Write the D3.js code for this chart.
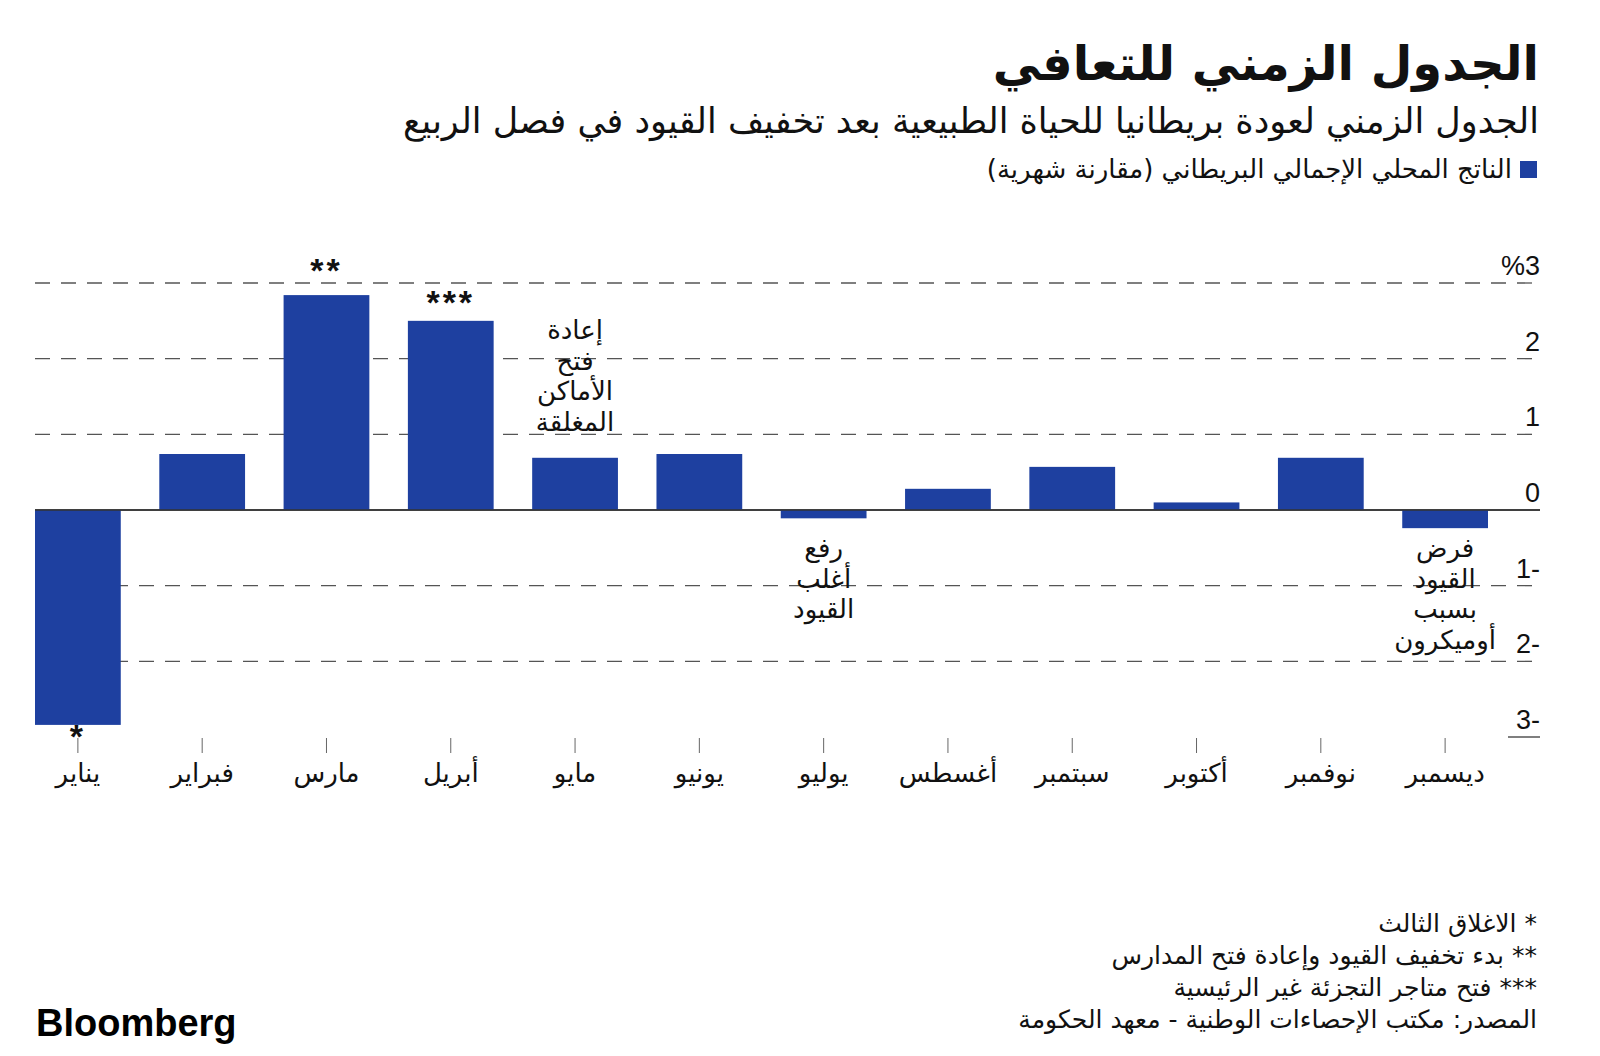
<!DOCTYPE html>
<html><head><meta charset="utf-8">
<script src="https://cdn.jsdelivr.net/npm/d3@7"></script>
<style>
html,body{margin:0;padding:0;background:#fff;}
svg{display:block;}
.ar{font-family:"DejaVu Sans",sans-serif;}
.num{font-family:"Liberation Sans",Arial,sans-serif;}
</style></head>
<body>
<script>
const months = ["يناير","فبراير","مارس","أبريل","مايو","يونيو","يوليو","أغسطس","سبتمبر","أكتوبر","نوفمبر","ديسمبر"];
const gdp = [-2.84, 0.74, 2.84, 2.5, 0.69, 0.74, -0.11, 0.28, 0.57, 0.1, 0.69, -0.24];
const yTicks = [-3, -2, -1, 0, 1, 2, 3];
const yTickLabels = ["3-", "2-", "1-", "0", "1", "2", "%3"];
const markers = [{m:"يناير", t:"*"}, {m:"مارس", t:"**"}, {m:"أبريل", t:"***"}];
const notes = [
  {m:"مايو", lines:["إعادة","فتح","الأماكن","المغلقة"]},
  {m:"يوليو", lines:["رفع","أغلب","القيود"]},
  {m:"ديسمبر", lines:["فرض","القيود","بسبب","أوميكرون"]}
];
const title = "الجدول الزمني للتعافي";
const subtitle = "الجدول الزمني لعودة بريطانيا للحياة الطبيعية بعد تخفيف القيود في فصل الربيع";
const legendLabel = "الناتج المحلي الإجمالي البريطاني (مقارنة شهرية)";
const footnotes = ["* الاغلاق الثالث","** بدء تخفيف القيود وإعادة فتح المدارس","*** فتح متاجر التجزئة غير الرئيسية","المصدر: مكتب الإحصاءات الوطنية - معهد الحكومة"];

const W = 1600, H = 1056;
const BLUE = "#1e40a0";
const svg = d3.select("body").append("svg").attr("width", W).attr("height", H);

const x = d3.scaleBand().domain(months).range([35, 1488]).paddingInner(0.31).paddingOuter(0);
const y = d3.scaleLinear().domain([-3, 3]).range([737, 283]);
const gridL = 35, gridR = 1540;

// title block
svg.append("text").attr("class","ar").attr("x",1539).attr("y",80)
  .attr("direction","rtl").attr("text-anchor","start")
  .attr("font-size",48).attr("font-weight","bold").attr("fill","#111").text(title);
svg.append("text").attr("class","ar").attr("x",1539).attr("y",133)
  .attr("direction","rtl").attr("text-anchor","start")
  .attr("font-size",35).attr("fill","#111").text(subtitle);
svg.append("rect").attr("x",1520).attr("y",161).attr("width",17).attr("height",17).attr("fill",BLUE);
svg.append("text").attr("class","ar").attr("x",1512).attr("y",178)
  .attr("direction","rtl").attr("text-anchor","start")
  .attr("font-size",26).attr("fill","#111").text(legendLabel);

// gridlines
const g = svg.append("g");
yTicks.forEach((t, i) => {
  const yy = y(t);
  if (t === 0) {
    g.append("line").attr("x1",gridL).attr("x2",gridR).attr("y1",yy).attr("y2",yy)
      .attr("stroke","#333").attr("stroke-width",1.5);
  } else if (t === -3) {
    g.append("line").attr("x1",1508).attr("x2",gridR).attr("y1",yy).attr("y2",yy)
      .attr("stroke","#555").attr("stroke-width",1.5);
  } else {
    g.append("line").attr("x1",gridL).attr("x2",gridR).attr("y1",yy).attr("y2",yy)
      .attr("stroke","#555").attr("stroke-width",1.3).attr("stroke-dasharray","15,11");
  }
  g.append("text").attr("class","num").attr("x",gridR).attr("y",yy-8)
    .attr("text-anchor","end").attr("font-size",27).attr("fill","#111").text(yTickLabels[i]);
});

// bars
svg.append("g").selectAll("rect").data(months).join("rect")
  .attr("x", d => x(d))
  .attr("width", x.bandwidth())
  .attr("y", (d,i) => gdp[i] >= 0 ? y(gdp[i]) : y(0))
  .attr("height", (d,i) => Math.abs(y(gdp[i]) - y(0)))
  .attr("fill", BLUE);

// zero line on top
svg.append("line").attr("x1",gridL).attr("x2",gridR).attr("y1",y(0)).attr("y2",y(0))
  .attr("stroke","#333").attr("stroke-width",1.5);

// month ticks & labels
const xa = svg.append("g");
months.forEach(m => {
  const cx = x(m) + x.bandwidth()/2;
  xa.append("line").attr("x1",cx).attr("x2",cx).attr("y1",738).attr("y2",753)
    .attr("stroke","#666").attr("stroke-width",1);
  xa.append("text").attr("class","ar").attr("x",cx).attr("y",782)
    .attr("text-anchor","middle").attr("font-size",26).attr("fill","#111").text(m);
});

// asterisk markers
markers.forEach(mk => {
  const i = months.indexOf(mk.m);
  const v = gdp[i];
  const cx = x(mk.m) + x.bandwidth()/2;
  const yy = v >= 0 ? y(v) - (mk.t.length === 2 ? 13 : 7) : y(v) + 23;
  svg.append("text").attr("class","num").attr("x",cx).attr("y",yy)
    .attr("text-anchor","middle").attr("font-size",34).attr("font-weight","bold")
    .attr("letter-spacing",3).attr("fill","#111").text(mk.t);
});

// notes
notes.forEach(n => {
  const i = months.indexOf(n.m);
  const v = gdp[i];
  const cx = x(n.m) + x.bandwidth()/2;
  const y0 = v >= 0 ? 339 : 557;
  n.lines.forEach((ln, k) => {
    svg.append("text").attr("class","ar").attr("x",cx).attr("y",y0 + k*30.5)
      .attr("text-anchor","middle").attr("font-size",26).attr("fill","#111").text(ln);
  });
});

// footnotes
footnotes.forEach((f, k) => {
  svg.append("text").attr("class","ar").attr("x",1537).attr("y",932 + k*32)
    .attr("direction","rtl").attr("text-anchor","start")
    .attr("font-size",25).attr("fill","#111").text(f);
});

// logo
svg.append("text").attr("class","num").attr("x",36).attr("y",1036)
  .attr("font-size",38).attr("font-weight","bold").attr("letter-spacing",0)
  .attr("fill","#000").text("Bloomberg");
</script>
</body></html>
